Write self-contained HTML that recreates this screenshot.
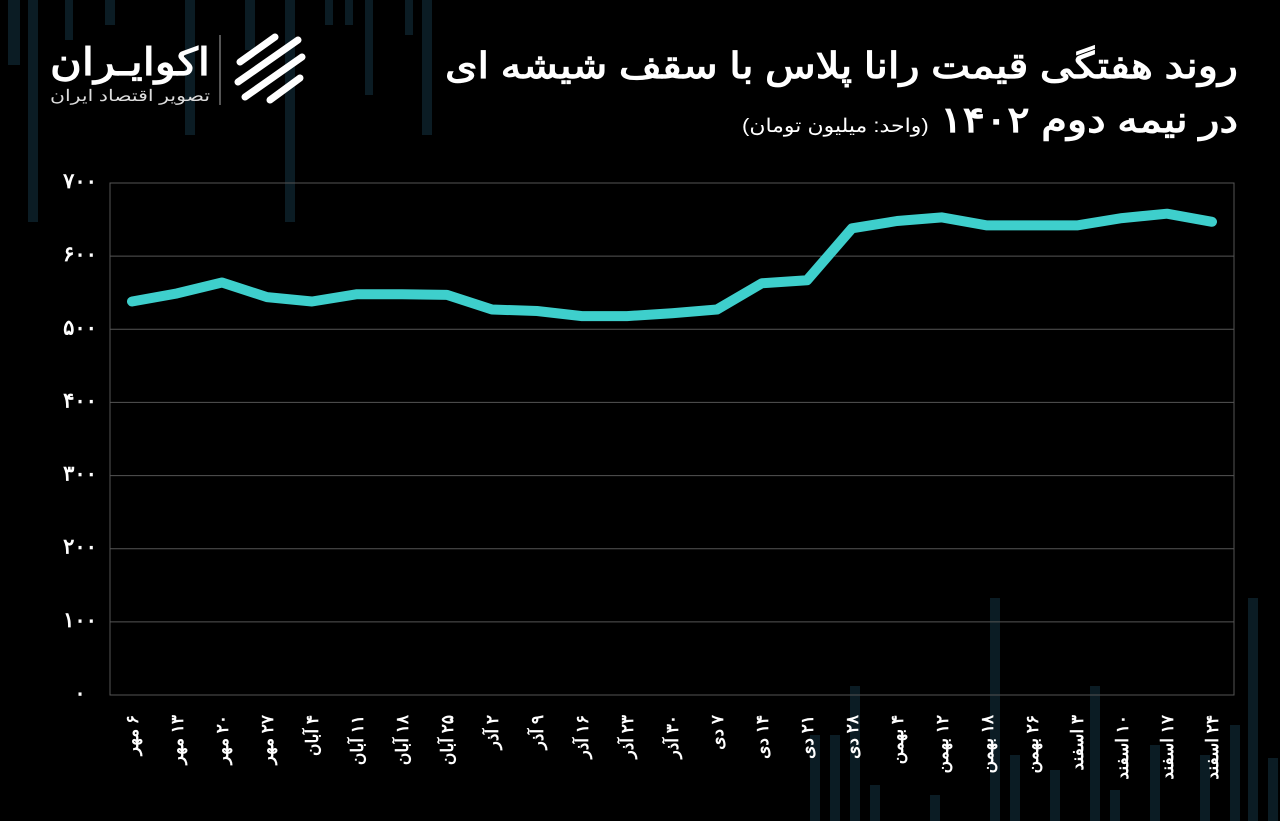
<!DOCTYPE html>
<html><head><meta charset="utf-8">
<style>
html,body{margin:0;padding:0;background:#000;}
body{width:1280px;height:821px;overflow:hidden;position:relative;font-family:"Liberation Sans","Noto Sans CJK SC",sans-serif;}
svg{position:absolute;left:0;top:0;}
</style></head>
<body>
<svg id="chart" width="1280" height="821">
  <g id="bg"></g>
  <g>
    <text x="1238" y="78" text-anchor="start" direction="rtl" font-size="36" font-weight="bold" fill="#fff" textLength="793" lengthAdjust="spacingAndGlyphs">روند هفتگی قیمت رانا پلاس با سقف شیشه ای</text>
    <text x="1238" y="132" text-anchor="start" direction="rtl" font-size="36" font-weight="bold" fill="#fff" textLength="496" lengthAdjust="spacingAndGlyphs">در نیمه دوم ۱۴۰۲ <tspan font-size="19" font-weight="normal">(واحد: میلیون تومان)</tspan></text>
    <text x="210" y="75" text-anchor="start" direction="rtl" font-size="38" font-weight="bold" fill="#fff" textLength="160" lengthAdjust="spacingAndGlyphs">اکوایـران</text>
    <text x="210" y="101" text-anchor="start" direction="rtl" font-size="16" fill="#ddd" textLength="160" lengthAdjust="spacingAndGlyphs">تصویر اقتصاد ایران</text>
    <line x1="220" y1="35" x2="220" y2="105" stroke="#aaa" stroke-width="1"/>
    <g stroke="#fff" stroke-width="7" fill="none" stroke-linecap="round">
      <path d="M240 62 L275 37"/><path d="M238 82 L298 40"/><path d="M245 97 L302 57"/><path d="M270 100 L300 78"/>
    </g>
  </g>
  <g id="grid"></g>
  <g id="yaxis"></g>
  <g id="xaxis"></g>
  <g id="series"></g>
</svg>
<script>
const categories = ["۶ مهر","۱۳ مهر","۲۰ مهر","۲۷ مهر","۴ آبان","۱۱ آبان","۱۸ آبان","۲۵ آبان","۲ آذر","۹ آذر","۱۶ آذر","۲۳ آذر","۳۰ آذر","۷ دی","۱۴ دی","۲۱ دی","۲۸ دی","۴ بهمن","۱۲ بهمن","۱۸ بهمن","۲۶ بهمن","۳ اسفند","۱۰ اسفند","۱۷ اسفند","۲۴ اسفند"];
const prices = [538,549,564,544,538,548,548,547,527,525,518,518,522,527,563,567,638,648,653,642,642,642,652,658,647];
const yTicks = [0,100,200,300,400,500,600,700];
const yTickLabels = ["۰","۱۰۰","۲۰۰","۳۰۰","۴۰۰","۵۰۰","۶۰۰","۷۰۰"];
const NS="http://www.w3.org/2000/svg";
const x0=110,x1=1234,y0=695,yTop=183;
function yScale(v){return y0-(v/700)*(y0-yTop);}
function xScale(i){return 132+i*(1212-132)/(categories.length-1);}
function mk(tag,attrs,parent){const e=document.createElementNS(NS,tag);for(const k in attrs)e.setAttribute(k,attrs[k]);parent.appendChild(e);return e;}
const bg=document.getElementById('bg');
[[8,0,12,65],[28,0,10,222],[65,0,8,40],[105,0,10,25],[185,0,10,135],[245,0,10,50],[285,0,10,222],[325,0,8,25],[345,0,8,25],[365,0,8,95],[405,0,8,35],[422,0,10,135],[990,598,10,223],[1090,686,10,135],[850,686,10,135],[810,735,10,86],[830,735,10,86],[870,785,10,36],[930,795,10,26],[1010,755,10,66],[1050,770,10,51],[1110,790,10,31],[1150,745,10,76],[1200,755,10,66],[1230,725,10,96],[1248,598,10,223],[1268,758,10,63]].forEach(b=>{
  const r=mk('rect',{x:b[0],y:b[1],width:b[2],height:b[3],fill:'#0b1c24'},bg);
  
  
});
const grid=document.getElementById('grid');
const frame=mk('rect',{x:x0,y:yTop,width:x1-x0,height:y0-yTop,fill:'none',stroke:'#555','stroke-width':1},grid);


const ya=document.getElementById('yaxis');
yTicks.forEach((t,i)=>{
  const y=yScale(t);
  const l=mk('line',{x1:x0,x2:x1,y1:y,y2:y,stroke:'#555','stroke-width':1},grid);
  
  
  const tx=mk('text',{x:80,y:y+5,'text-anchor':'middle','font-size':21,'font-weight':'bold',fill:'#fff'},ya);
  tx.textContent=yTickLabels[i];
  
  
});
const xa=document.getElementById('xaxis');
categories.forEach((c,i)=>{
  const x=xScale(i);
  const t=mk('text',{transform:`translate(${x+6},715) rotate(-90)`,'text-anchor':'start',direction:'rtl','font-size':17,'font-weight':'bold',fill:'#fff'},xa);
  t.textContent=c;
  
  
});
const pts=prices.map((v,i)=>xScale(i).toFixed(1)+','+yScale(v).toFixed(1)).join(' ');
const pl=mk('polyline',{points:pts,fill:'none',stroke:'#3ecfcc','stroke-width':10,'stroke-linejoin':'round','stroke-linecap':'round'},document.getElementById('series'));


</script>
</body></html>
